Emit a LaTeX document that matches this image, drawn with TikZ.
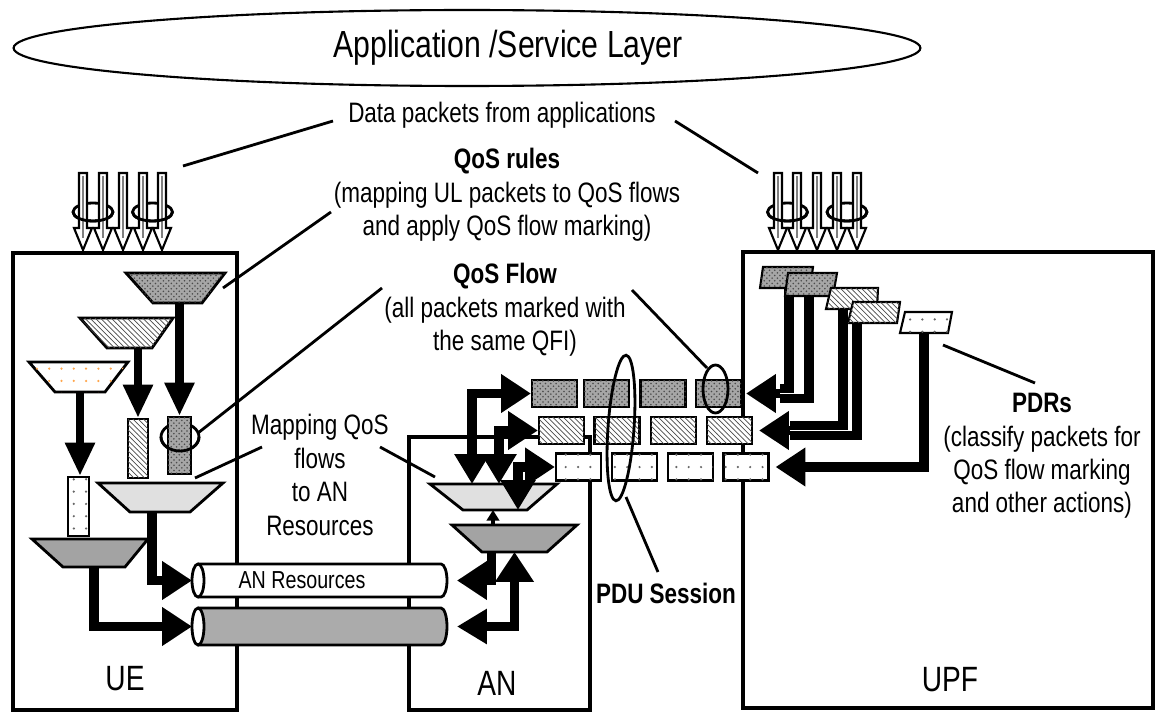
\documentclass[tikz,border=0pt]{standalone}
\usepackage{fontspec}
\setmainfont{Liberation Sans}[FakeStretch=0.8]
\usetikzlibrary{arrows.meta,shapes.geometric,patterns,calc,positioning}

\pgfdeclarepatternformonly{sparse dots}{\pgfqpoint{-1pt}{-1pt}}{\pgfqpoint{1pt}{1pt}}{\pgfqpoint{7pt}{7pt}}{\pgfpathcircle{\pgfqpoint{0pt}{0pt}}{0.7pt}\pgfusepath{fill}}

\begin{document}
\begin{tikzpicture}[
        x=0.02cm, y=-0.02cm,
        box/.style={draw, line width=2pt, inner sep=0},
        lbl/.style={font=\fontsize{16}{19}\selectfont, align=center, inner sep=0},
        big/.style={font=\fontsize{20}{24}\selectfont, inner sep=0},
        trap/.style={draw, line width=1.6pt, line join=miter},
        slab/.style={draw, line width=1.2pt},
        pkt/.style={rectangle, draw, line width=1.2pt, minimum width=0.9cm, minimum height=0.54cm, inner sep=0},
        dark/.style={fill=gray!70, postaction={pattern=crosshatch dots, pattern color=black!70}},
        hatch/.style={fill=white, postaction={pattern=north west lines, pattern color=black!70}},
        speckled/.style={fill=white, postaction={pattern=sparse dots, pattern color=black!60}},
        pipe/.style={draw, line width=1.6pt},
        fat/.style={line width=5.5pt, arrows={-Triangle[length=17pt,width=21pt]}},
        fatv/.style={line width=5pt, arrows={-Triangle[length=19pt,width=16pt]}},
        both/.style={line width=5.5pt, arrows={Triangle[length=17pt,width=19pt]-Triangle[length=17pt,width=21pt]}},
        bar/.style={line width=5.5pt},
        lead/.style={line width=1.6pt},
        swirl/.style={line width=1.6pt},
        inarrow/.style={draw, line width=1.2pt, fill=white, line join=miter}
    ]
        \useasboundingbox (0,0) rectangle (1157,713);

        % Boxes
        \node[box, minimum width=4.48cm, minimum height=9.14cm] (ue) at (125,481.5) {};
        \node[box, minimum width=3.62cm, minimum height=5.46cm] (an) at (499.5,573.5) {};
        \node[box, minimum width=8.2cm, minimum height=9.12cm] (upf) at (948,480) {};
        \node[big] (uelbl) at (125,679) {UE};
        \node[big] (anlbl) at (497,683) {AN};
        \node[big] (upflbl) at (950,680) {UPF};

        % Application layer
        \node[ellipse, draw, line width=1.2pt, minimum width=18.14cm, minimum height=1.52cm, inner sep=0] (app) at (467,48) {};
        \node[font=\fontsize{21.5}{25}\selectfont, inner sep=0] (applbl) at (508,48) {Application /Service Layer};

        % Labels
        \node[lbl] (dp) at (502,115) {Data packets from applications};
        \node[lbl] (qr) at (507,195) {\textbf{QoS rules}\\(mapping UL packets to QoS flows\\and apply QoS flow marking)};
        \node[lbl] (qf) at (505,310) {\textbf{QoS Flow}\\(all packets marked with\\the same QFI)};
        \node[lbl] (map) at (320,475) {Mapping QoS\\flows\\to AN\\Resources};
        \node[lbl] (pdr) at (1042,456) {\textbf{PDRs}\\(classify packets for\\QoS flow marking\\and other actions)};
        \node[lbl, font=\bfseries\fontsize{16}{19}\selectfont] (pdu) at (666,593) {PDU Session};

        % Incoming packets
        \foreach \x in {93,152.5,787.5,847}
            \draw[swirl] (\x,212) ellipse [x radius=20, y radius=9];
        \foreach \x in {83,103,123,143,162,778,797,817,837,857}{
            \draw[inarrow] (\x-4,173) -- (\x+4,173) -- (\x+4,228) -- (\x+9,228) -- (\x,250) -- (\x-9,228) -- (\x-4,228) -- cycle;
            \draw[gray, line width=1pt] (\x,176) -- (\x,238);
        }
        \foreach \x in {93,152.5,787.5,847}
            \draw[swirl] (\x-20,212) arc[start angle=180, end angle=0, x radius=20, y radius=9];

        % UE
        \draw[trap, dark] (126,273) -- coordinate (t1n) (225,273) -- (202,303) -- coordinate (t1s) (153,303) -- cycle;
        \draw[trap, hatch] (80,318) -- coordinate (t2n) (173,318) -- (152,348) -- coordinate (t2s) (107,348) -- cycle;
        \draw[trap, fill=white, postaction={pattern=sparse dots, pattern color=orange!70}] (29,362) -- coordinate (t3n) (128,362) -- (105,392) -- coordinate (t3s) (55,392) -- cycle;
        \draw[swirl] (180,437) ellipse [x radius=19, y radius=14];
        \node[pkt, dark, minimum width=0.46cm, minimum height=1.14cm] (q1) at (179.5,445.5) {};
        \draw[swirl] (161,437) arc[start angle=180, end angle=0, x radius=19, y radius=14];
        \node[pkt, hatch, minimum width=0.4cm, minimum height=1.18cm] (q2) at (138,448.5) {};
        \node[pkt, speckled, minimum width=0.42cm, minimum height=1.18cm] (q3) at (78.5,506.5) {};
        \draw[trap, fill=gray!24] (98,483) -- coordinate (t4n) (223,483) -- (190,512) -- coordinate (t4s) (130,512) -- cycle;
        \draw[trap, fill=gray!72] (32,539) -- coordinate (t5n) (148,539) -- (125,567) -- coordinate (t5s) (63,567) -- cycle;

        \draw[fatv] (q1.north |- t1s) -- (q1.north);
        \draw[fatv] (q2.north |- t2s) -- (q2.north);
        \draw[fatv] (t3s) -- (t3s |- q3.north);

        % AN Resources
        \draw[pipe, fill=white] (198,564) -- (441,564) arc[start angle=-90, end angle=90, x radius=6, y radius=16.5] -- (198,597);
        \draw[pipe, fill=white] (198,580.5) ellipse [x radius=6, y radius=16.5];
        \draw[pipe, fill=gray!66] (198,608) -- (441,608) arc[start angle=-90, end angle=90, x radius=6, y radius=18.5] -- (198,645);
        \draw[pipe, fill=white] (198,626.5) ellipse [x radius=6, y radius=18.5];
        \coordinate (pipe1w) at (192,580.5);
        \coordinate (pipe1e) at (447,580.5);
        \coordinate (pipe2w) at (192,626.5);
        \coordinate (pipe2e) at (447,626.5);
        \node[font=\fontsize{14}{17}\selectfont, inner sep=0] (pipelbl) at (302,580) {AN Resources};

        \draw[fat] ([xshift=-0.16cm]t4s) |- (pipe1w);
        \draw[fat] (t5s) |- (pipe2w);

        % PDU Session packets
        \foreach \i/\x in {1/554.5,2/606.5,3/663,4/718.5}
            \node[pkt, dark] (r1\i) at (\x,393.5) {};
        \foreach \i/\x in {1/561.5,2/617,3/673.5,4/729.5}
            \node[pkt, hatch] (r2\i) at (\x,430.5) {};
        \foreach \i/\x in {1/578.5,2/634.5,3/690.5,4/746}
            \node[pkt, speckled] (r3\i) at (\x,467) {};

        % AN
        \draw[trap, fill=gray!24] (430,484) -- coordinate (t6n) (557,484) -- (527,510) -- coordinate (t6s) (463,510) -- cycle;
        \draw[trap, fill=gray!72] (452,525) -- coordinate (t7n) (577,525) -- (547,552) -- coordinate (t7s) (482,552) -- cycle;

        \draw[both] ([xshift=-0.43cm]t6n) |- (r11.west);
        \draw[both] ([xshift=0.11cm]t6n) |- (r21.west);
        \draw[both] ([xshift=0.46cm]t6s) |- (r31.west);
        \draw[line width=2pt, arrows={-Triangle[length=6pt,width=7pt]}] ([xshift=-0.04cm]t6s |- t7n) -- ([xshift=-0.04cm]t6s);
        \draw[fat, shorten >=0.2cm] ([xshift=-0.46cm]t7s) |- (pipe1e);
        \draw[both, shorten <=0.2cm] (pipe2e) -| (t7s);

        % UPF
        \coordinate (h1) at (780,393.5);
        \coordinate (h2) at (790,430.5);
        \coordinate (h3) at (807,467);
        \draw[slab, dark] (760,288) -- (763,267) -- (813,267) -- (810,288) -- coordinate (p1s) cycle;
        \draw[bar] ([xshift=0.08cm]p1s) |- ([yshift=0.1cm]h1);
        \draw[slab, dark] (785,296) -- (788,273) -- (837,273) -- (833,296) -- coordinate (p2s) cycle;
        \draw[bar] (p2s) |- ([yshift=-0.1cm]h1);
        \draw[slab, hatch] (826,309) -- (831,288) -- (878,288) -- (877,309) -- coordinate (p3s) cycle;
        \draw[bar] ([xshift=-0.17cm]p3s) |- ([yshift=0.1cm]h2);
        \draw[slab, hatch] (848,323) -- (853,302) -- (900,302) -- (897,323) -- coordinate (p4s) cycle;
        \draw[bar] ([xshift=-0.31cm]p4s) |- ([yshift=-0.1cm]h2);
        \draw[slab, speckled] (900,333) -- (905,312) -- (952,312) -- (948,333) -- coordinate (p5s) cycle;
        \draw[bar] (p5s) |- (h3);

        \draw[fat, shorten >=0.08cm] (h1) -- (r14.east);
        \draw[fat, shorten >=0.12cm] (h2) -- (r24.east);
        \draw[fat, shorten >=0.12cm] (h3) -- (r34.east);

        % Loops
        \draw[swirl] (715.5,389) ellipse [x radius=12.5, y radius=24];
        \draw[swirl, rotate around={-4:(621,428)}] (621,428) ellipse [x radius=13, y radius=73];

        % Leader lines
        \coordinate (l1a) at (183,166); \coordinate (l1b) at (333,121);
        \coordinate (l2a) at (675,121); \coordinate (l2b) at (758,173);
        \coordinate (l3a) at (223,288); \coordinate (l3b) at (331,212);
        \coordinate (l4a) at (198,433); \coordinate (l4b) at (382,288);
        \coordinate (l5a) at (632,290); \coordinate (l5b) at (707,368);
        \coordinate (l6a) at (195,478); \coordinate (l6b) at (262,447);
        \coordinate (l7a) at (380,447); \coordinate (l7b) at (435,477);
        \coordinate (l8a) at (626,497); \coordinate (l8b) at (658,572);
        \coordinate (l9a) at (943,345); \coordinate (l9b) at (1035,383);
        \foreach \i in {1,...,9}
            \draw[lead] (l\i a) -- (l\i b);

    \end{tikzpicture}
\end{document}
